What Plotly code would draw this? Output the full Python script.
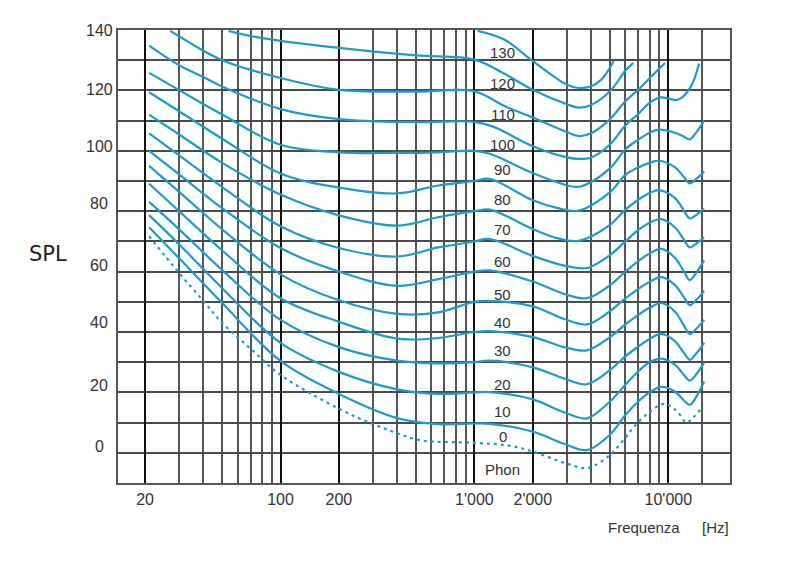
import plotly.graph_objects as go
import math

# ---------------- data ----------------
# frequency grid (Hz) for the 0..60 phon contours
F_A = [21, 30, 50, 100, 200, 400, 650, 1000, 1200, 2000, 2900, 3800,
       5000, 6000, 7000, 8000, 9200, 10800, 12000, 12900, 13900, 15300]
SPL_0 = [64.7, 54.4, 39.6, 20.4, 9.5, 1.5, -0.5, -0.3, -0.4, -3.0, -7.0, -9.1,
         -4.0, 2.5, 7.0, 10.0, 11.8, 10.3, 7.4, 5.9, 8.4, 13.6]
SPL_10 = [68.7, 59.0, 44.5, 26.4, 16.8, 11.0, 9.5, 10.0, 10.1, 7.7, 3.4, 1.4,
          7.0, 12.5, 17.0, 20.0, 21.2, 19.2, 15.9, 13.9, 15.9, 19.9]
SPL_20 = [73.1, 64.0, 50.5, 34.0, 25.0, 20.5, 19.6, 20.0, 20.5, 18.3, 14.6, 12.7,
          17.4, 21.9, 25.2, 27.7, 29.4, 27.0, 23.2, 20.8, 22.8, 26.4]
SPL_30 = [79.1, 70.0, 57.0, 41.2, 33.4, 27.8, 28.0, 30.0, 30.3, 28.3, 25.0, 23.9,
          28.3, 32.5, 35.7, 38.0, 39.6, 36.8, 32.3, 29.4, 31.0, 34.0]
SPL_40 = [85.0, 76.4, 64.0, 49.1, 40.5, 36.0, 36.5, 40.0, 40.3, 38.5, 34.3, 32.5,
          36.9, 41.1, 44.3, 46.6, 48.2, 45.6, 41.6, 38.9, 40.5, 43.6]
SPL_50 = [90.0, 82.2, 71.0, 57.8, 50.0, 45.3, 47.5, 50.0, 50.4, 46.7, 42.6, 41.2,
          45.5, 50.0, 53.5, 56.0, 57.5, 54.6, 50.2, 47.2, 49.5, 53.7]
SPL_60 = [95.8, 88.5, 78.0, 65.0, 57.8, 55.0, 58.0, 60.0, 60.8, 55.2, 52.0, 51.2,
          55.5, 60.0, 63.8, 66.2, 67.4, 64.7, 60.7, 58.0, 59.2, 61.3]

# frequency grid (Hz) for the 70..90 phon contours
F_B = [21, 30, 50, 100, 200, 400, 650, 1000, 1200, 2000, 2700, 3450,
       5000, 6000, 7000, 8000, 8900, 10800, 12000, 12900, 13900, 15300]
SPL_70 = [102.0, 95.4, 86.0, 75.5, 68.6, 65.2, 68.0, 70.0, 70.5, 64.1, 61.0, 60.2,
          65.5, 70.5, 73.8, 76.0, 77.0, 74.4, 70.3, 67.6, 68.7, 70.8]
SPL_80 = [109.4, 103.1, 94.0, 82.5, 77.8, 75.9, 78.5, 80.0, 80.7, 73.6, 71.0, 70.2,
          76.3, 82.0, 84.5, 86.0, 86.7, 84.6, 81.4, 79.2, 80.6, 83.1]
SPL_90 = [115.8, 110.1, 102.0, 92.0, 89.5, 89.3, 89.5, 90.0, 89.0, 82.6, 79.5, 78.1,
          84.2, 90.5, 93.7, 96.0, 97.0, 96.0, 94.7, 93.8, 96.0, 100.0]

F_100 = [21, 30, 40, 50, 100, 200, 500, 1000, 1250, 2000, 3000, 3450, 4000,
         5000, 6000, 7000, 8000, 9100, 11200, 13000, 14400]
SPL_100 = [124.8, 118.3, 114.4, 111.3, 103.8, 100.5, 99.5, 99.6, 98.0, 91.5, 87.8,
           87.3, 87.8, 92.1, 98.4, 102.2, 105.9, 107.7, 106.9, 111.0, 118.9]

F_110 = [27, 35, 50, 100, 200, 500, 1000, 1430, 2000, 3000, 3450, 4000, 5000,
         6000, 7000, 8000, 9600]
SPL_110 = [129.7, 125.3, 120.0, 114.1, 110.2, 109.6, 109.7, 104.8, 101.0, 96.2,
           94.9, 95.8, 100.5, 106.4, 110.2, 114.0, 119.1]

F_120 = [54, 70, 100, 200, 500, 1000, 1430, 2000, 3000, 3450, 4000, 5000, 6000, 6600]
SPL_120 = [129.7, 128.0, 126.4, 124.1, 121.6, 120.2, 115.5, 110.2, 105.4, 104.3,
           105.2, 109.7, 116.5, 119.1]

F_130 = [1040, 1430, 2000, 3000, 3450, 4000, 4500, 5000, 5220]
SPL_130 = [129.7, 126.8, 119.7, 111.9, 110.8, 111.4, 113.5, 117.5, 119.7]

# threshold of hearing (dotted)
F_TH = [21, 30, 40, 50, 70, 100, 200, 300, 400, 520, 1000, 1500, 2000, 3000,
        3850, 5000, 6000, 6650, 8000, 9500, 11000, 12400, 13500, 15100]
SPL_TH = [61.7, 49.5, 40.3, 33.0, 24.5, 15.8, 4.6, -0.5, -3.5, -5.8, -6.7, -7.6,
          -9.6, -13.6, -15.0, -10.7, -5.0, -1.4, 3.5, 6.2, 4.0, 0.1, 1.8, 5.4]

# contour labels (phon) and their vertical positions on the SPL scale
PHON_LABELS = ["130", "120", "110", "100", "90", "80", "70", "60", "50", "40",
               "30", "20", "10", "0", "Phon"]
PHON_LABEL_Y = [122.6, 112.4, 102.1, 92.0, 83.9, 73.8, 63.9, 53.4, 42.4, 33.0,
                23.9, 12.6, 3.7, -4.5, -15.5]
PHON_LABEL_F = 1400

# axis ticks
X_TICKS = [20, 100, 200, 1000, 2000, 10000]
X_LABELS = ["20", "100", "200", "1'000", "2'000", "10'000"]
X_MINOR = [30, 40, 50, 60, 70, 80, 90, 300, 400, 500, 600, 700, 800, 900,
           3000, 4000, 5000, 6000, 7000, 8000, 9000, 15000]
Y_LABELS = ["140", "120", "100", "80", "60", "40", "20", "0"]
Y_LABEL_POS = [130, 110.4, 91.4, 72.4, 52.0, 33.3, 12.3, -7.9]

BLUE = "#1b9ad6"
TEXT = "#333333"

# ---------------- figure ----------------
fig = go.Figure()

contours = [
    (F_A, SPL_0), (F_A, SPL_10), (F_A, SPL_20), (F_A, SPL_30),
    (F_A, SPL_40), (F_A, SPL_50), (F_A, SPL_60), (F_B, SPL_70),
    (F_B, SPL_80), (F_B, SPL_90), (F_100, SPL_100), (F_110, SPL_110),
    (F_120, SPL_120), (F_130, SPL_130),
]
for fx, fy in contours:
    fig.add_trace(go.Scatter(
        x=fx, y=fy, mode="lines", hoverinfo="skip", showlegend=False,
        line=dict(color=BLUE, width=2.2, shape="spline", smoothing=1.0)))

fig.add_trace(go.Scatter(
    x=F_TH, y=SPL_TH, mode="lines", hoverinfo="skip", showlegend=False,
    line=dict(color=BLUE, width=2.2, shape="spline", smoothing=1.0,
              dash="3px,4px")))

for txt, yv in zip(PHON_LABELS, PHON_LABEL_Y):
    fig.add_annotation(x=math.log10(PHON_LABEL_F), y=yv, xref="x", yref="y",
                       text=txt, showarrow=False, xanchor="center",
                       yanchor="middle",
                       font=dict(family="Liberation Sans", size=15, color=TEXT))

# y-axis labels (centred, as in the reference)
for txt, yv in zip(Y_LABELS, Y_LABEL_POS):
    fig.add_annotation(x=-0.0306, y=yv, xref="paper", yref="y", text=txt,
                       showarrow=False, xanchor="center", yanchor="middle",
                       font=dict(family="Liberation Sans", size=16, color=TEXT))

fig.add_annotation(x=-0.1144, y=0.506, xref="paper", yref="paper", text="SPL",
                   showarrow=False, xanchor="center", yanchor="middle",
                   font=dict(family="DejaVu Sans", size=21, color="#222222"))
fig.add_annotation(x=0.8595, y=-0.098, xref="paper", yref="paper",
                   text="Frequenza", showarrow=False, xanchor="center",
                   yanchor="middle",
                   font=dict(family="Liberation Sans", size=15, color=TEXT))
fig.add_annotation(x=0.9755, y=-0.098, xref="paper", yref="paper",
                   text="[Hz]", showarrow=False, xanchor="center",
                   yanchor="middle",
                   font=dict(family="Liberation Sans", size=15, color=TEXT))

fig.update_layout(
    width=800, height=566,
    margin=dict(l=110, r=78, t=22, b=90.5),
    plot_bgcolor="white", paper_bgcolor="white",
    showlegend=False,
    xaxis=dict(
        type="log", range=[1.1617, 4.318],
        tickmode="array", tickvals=X_TICKS, ticktext=X_LABELS,
        showgrid=True, gridcolor="#111111", gridwidth=2.4,
        ticks="", ticklabelstandoff=1,
        tickfont=dict(family="Liberation Sans", size=16, color=TEXT),
        showline=True, mirror=True, linecolor="#555555", linewidth=1.5,
        zeroline=False,
        minor=dict(tickmode="array", tickvals=X_MINOR, showgrid=True,
                   gridcolor="#555555", gridwidth=1.5, ticks=""),
    ),
    yaxis=dict(
        range=[-20, 130],
        tickmode="array", tickvals=Y_LABEL_POS, ticktext=Y_LABELS,
        showticklabels=False,
        showgrid=False, ticks="",
        showline=True, mirror=True, linecolor="#555555", linewidth=1.5,
        zeroline=False,
        minor=dict(tickmode="linear", tick0=0, dtick=10, showgrid=True,
                   gridcolor="#4a4a4a", gridwidth=1.5, ticks=""),
    ),
)

fig.write_html("out.html")
